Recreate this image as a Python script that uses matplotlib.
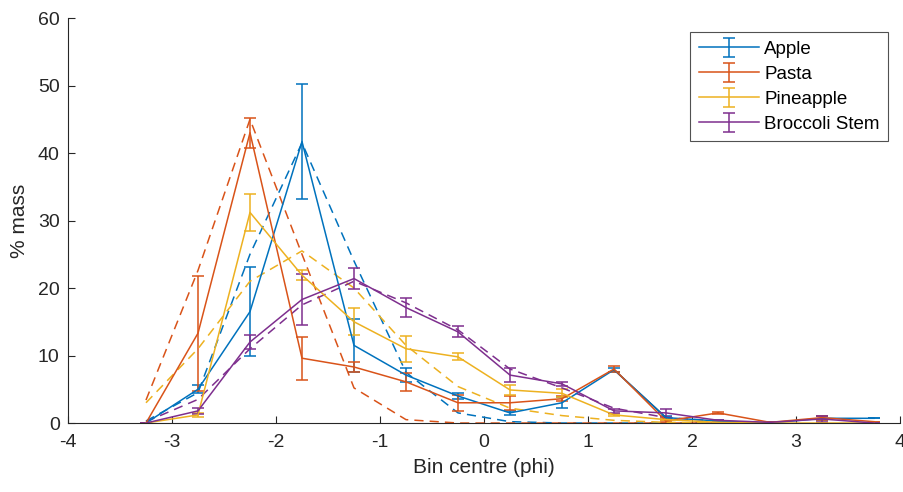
import matplotlib
matplotlib.use("Agg")
import matplotlib.pyplot as plt

plt.rcParams['font.family'] = ['Liberation Sans', 'DejaVu Sans']

# Bin centres (phi) and measured % mass per sample, with error
bin_centres = [-3.25, -2.75, -2.25, -1.75, -1.25, -0.75, -0.25, 0.25, 0.75,
               1.25, 1.75, 2.25, 2.75, 3.25, 3.75]

apple = [0, 5.0, 16.5, 41.7, 11.5, 7.1, 4.0, 1.5, 3.0, 7.9, 0.8, 0.3, 0.0, 0.7, 0.7]
apple_err = [0, 0.6, 6.6, 8.5, 3.9, 1.0, 0.5, 0.3, 0.8, 0.3, 0.2, 0.1, 0, 0.3, 0]

pasta = [0, 13.3, 43.0, 9.6, 8.3, 6.1, 3.0, 3.0, 3.6, 8.0, 0.3, 1.5, 0.1, 0.8, 0.2]
pasta_err = [0, 8.5, 2.2, 3.2, 0.7, 1.3, 1.2, 1.0, 0.4, 0.4, 0.2, 0.2, 0.1, 0.3, 0]

pineapple = [0, 1.2, 31.2, 21.9, 15.0, 11.0, 9.8, 4.9, 4.4, 1.2, 0.5, 0.1, 0, 0, 0]
pineapple_err = [0, 0.3, 2.8, 0.7, 2.0, 1.9, 0.5, 0.7, 0.6, 0.2, 0.1, 0, 0, 0, 0]

broccoli = [0, 1.8, 12.0, 18.3, 21.4, 17.1, 13.5, 7.1, 5.8, 1.8, 1.5, 0.4, 0.1, 0.6, 0]
broccoli_err = [0, 0.4, 1.0, 3.8, 1.5, 1.4, 0.8, 1.0, 0.3, 0.3, 0.6, 0.1, 0, 0.5, 0]

# Fitted distributions (dashed), evaluated at the first 12 bin centres
fit_centres = bin_centres[:12]
apple_fit = [0.3, 4.5, 25.0, 41.5, 24.0, 7.5, 1.5, 0.2, 0.0, 0.0, 0.0, 0.0]
pasta_fit = [3.4, 22.6, 45.0, 25.0, 5.2, 0.5, 0.0, 0.0, 0.0, 0.0, 0.0, 0.0]
pineapple_fit = [3.0, 11.0, 21.0, 25.5, 20.0, 11.5, 5.4, 2.2, 1.1, 0.4, 0.1, 0.0]
broccoli_fit = [0.2, 3.5, 11.0, 17.5, 21.0, 17.8, 13.8, 8.0, 5.2, 2.2, 0.8, 0.3]

labels = ['Apple', 'Pasta', 'Pineapple', 'Broccoli Stem']
colors = ['#0072BD', '#D95319', '#EDB120', '#7E2F8E']
y_ticks = [0, 10, 20, 30, 40, 50, 60]
x_ticks = [-4, -3, -2, -1, 0, 1, 2, 3, 4]

series = [(apple, apple_err, apple_fit), (pasta, pasta_err, pasta_fit),
          (pineapple, pineapple_err, pineapple_fit),
          (broccoli, broccoli_err, broccoli_fit)]

fig = plt.figure(figsize=(9.04, 4.92), dpi=100)
ax = fig.add_axes([0.0752, 0.1402, 0.9204, 0.8232])

handles = []
for (vals, errs, fit), lab, col in zip(series, labels, colors):
    h = ax.errorbar(bin_centres, vals, yerr=errs, color=col, lw=1.1,
                    elinewidth=1.1, capsize=4, capthick=1.1, label=lab)
    handles.append(h)
    ax.plot(fit_centres, fit, color=col, lw=1.1, dashes=(6, 4))

# drop from the 1.25 phi peak to 1.75 phi
ax.plot(bin_centres[9:11], apple[9:11], color='#404040', lw=1.1)

ax.set_xlim(-4, 4)
ax.set_ylim(0, 60)
ax.set_xticks(x_ticks)
ax.set_yticks(y_ticks)
ax.set_xticklabels([str(t) for t in x_ticks])
ax.tick_params(direction='in', length=5, width=0.8, labelsize=14,
               colors='#262626', pad=6)
ax.tick_params(axis='x', pad=8)
for s in ['top', 'right']:
    ax.spines[s].set_visible(False)
for s in ['left', 'bottom']:
    ax.spines[s].set_color('#262626')
    ax.spines[s].set_linewidth(0.8)

ax.set_xlabel('Bin centre (phi)', fontsize=15, color='#262626', labelpad=5)
ax.set_ylabel('% mass', fontsize=15, color='#262626', labelpad=6)

leg = ax.legend(handles=handles, labels=labels, loc='upper right',
                bbox_to_anchor=(0.986, 0.965), borderaxespad=0, fontsize=13.5,
                frameon=True, fancybox=False, edgecolor='#262626',
                handlelength=3.2, handletextpad=0.3, labelspacing=0.42,
                borderpad=0.45)
leg.get_frame().set_linewidth(0.8)

fig.savefig('out.png', dpi=100)
